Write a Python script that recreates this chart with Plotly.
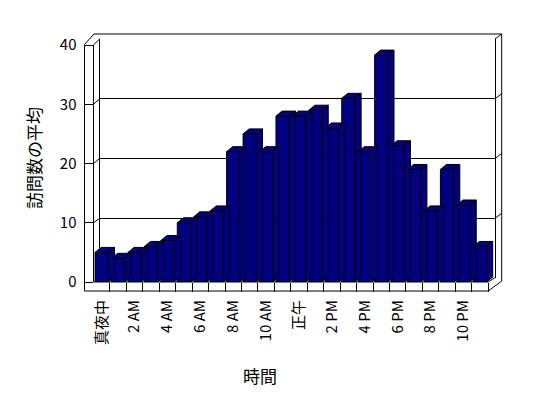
import plotly.graph_objects as go

# ---- data ----
hours = list(range(24))
tick_positions = [0, 2, 4, 6, 8, 10, 12, 14, 16, 18, 20, 22]
tick_labels = ["真夜中", "2 AM", "4 AM", "6 AM", "8 AM", "10 AM",
               "正午", "2 PM", "4 PM", "6 PM", "8 PM", "10 PM"]
visits = [5, 4, 5, 6, 7, 10, 11, 12, 22, 25, 22, 28,
          28, 29, 26, 31, 22, 38.3, 23, 19, 12, 19, 13, 6]
y_ticks = [0, 10, 20, 30, 40]

# ---- geometry / style ----
NAVY = "#000080"
FONT = "Noto Sans CJK JP"
L, R, T, B = 84, 502, 34, 292
W, H = R - L, B - T


def fx(p):
    return (p - L) / W


def fy(p):
    return (B - p) / H


BAR_W = 0.81
DX, DY = 0.37, 0.84  # depth of bars in axis units

fig = go.Figure()

# front faces
fig.add_trace(go.Bar(x=hours, y=visits, width=BAR_W, xaxis="x2", yaxis="y2",
                     marker=dict(color=NAVY, line=dict(color="black", width=1)),
                     hoverinfo="skip", showlegend=False))

# top and side faces built from the same values
top_x, top_y, side_x, side_y = [], [], [], []
for h, v in zip(hours, visits):
    x0, x1 = h - BAR_W / 2, h + BAR_W / 2
    top_x += [x0, x1, x1 + DX, x0 + DX, x0, None]
    top_y += [v, v, v + DY, v + DY, v, None]
    side_x += [x1, x1 + DX, x1 + DX, x1, x1, None]
    side_y += [0, DY, v + DY, v, 0, None]
for xs, ys in ((side_x, side_y), (top_x, top_y)):
    fig.add_trace(go.Scatter(x=xs, y=ys, xaxis="x2", yaxis="y2", mode="lines",
                             fill="toself", fillcolor=NAVY,
                             line=dict(color="black", width=1),
                             hoverinfo="skip", showlegend=False))

# invisible trace on back-wall subplot so that its axes render
fig.add_trace(go.Scatter(x=[0], y=[0], xaxis="x", yaxis="y", mode="markers",
                         marker=dict(opacity=0), hoverinfo="skip", showlegend=False))

line = dict(color="black", width=1)
shapes = []


def seg(x0, y0, x1, y1):
    shapes.append(dict(type="line", xref="paper", yref="paper",
                       x0=fx(x0), y0=fy(y0), x1=fx(x1), y1=fy(y1), line=line))


seg(94, 34, 501.7, 34)
seg(84.5, 44.5, 94, 34)
seg(93.5, 45, 99.7, 39)
seg(84.5, 44.5, 84.5, 291)
seg(84.5, 291, 488.3, 291)
seg(93.5, 282, 488.3, 282)
seg(501.7, 34, 501.7, 281)
seg(495, 39, 501.7, 34)
seg(501.7, 281, 488.3, 291)
seg(495, 277.5, 488.3, 282)
for v in (10, 20, 30):
    seg(93.5, 282 - 5.925 * v, 99.7, 278 - 5.975 * v)
    seg(495, 278 - 5.975 * v, 501.7, 273 - 5.975 * v)

fig.update_layout(
    width=548, height=398,
    margin=dict(l=L, r=548 - R, t=T, b=398 - B),
    paper_bgcolor="white", plot_bgcolor="rgba(0,0,0,0)",
    font=dict(family=FONT, size=15, color="black"),
    shapes=shapes,
    # back wall
    xaxis=dict(domain=[fx(99.7), fx(495)], range=[0, 1], showgrid=False,
               zeroline=False, showticklabels=False, ticks="", showline=False,
               anchor="y"),
    yaxis=dict(domain=[fy(278), fy(39)], range=[0, 40], tickvals=[10, 20, 30, 40],
               showgrid=True, gridcolor="black", gridwidth=1, zeroline=False,
               showticklabels=False, ticks="", showline=True, mirror=True,
               linecolor="black", linewidth=1, anchor="x"),
    # bar plane
    xaxis2=dict(domain=[fx(93.5), fx(93.5 + 24.5 * 16.445)], range=[-0.5, 24],
                tickmode="array", tickvals=tick_positions, ticktext=tick_labels,
                tickangle=-90, ticks="", showgrid=False, zeroline=False,
                showline=False, anchor="y2", ticklabelstandoff=14,
                tickfont=dict(family=FONT, size=15, color="black"),
                minor=dict(tickmode="array", tickvals=[h + 0.5 for h in hours],
                           ticks="outside", ticklen=9, tickwidth=1,
                           tickcolor="black", showgrid=False)),
    yaxis2=dict(domain=[fy(282), fy(45)], range=[0, 40], tickvals=y_ticks,
                showgrid=False, zeroline=False, ticks="outside", ticklen=9,
                tickcolor="black", tickwidth=1, showline=True, linecolor="black",
                linewidth=1, anchor="x2", ticklabelstandoff=4,
                tickfont=dict(family=FONT, size=15, color="black")),
    annotations=[
        dict(text="訪問数の平均", xref="paper", yref="paper", x=fx(33), y=fy(158),
             showarrow=False, textangle=-90, font=dict(family=FONT, size=17),
             xanchor="center", yanchor="middle"),
        dict(text="時間", xref="paper", yref="paper", x=fx(260), y=fy(375),
             showarrow=False, font=dict(family=FONT, size=17),
             xanchor="center", yanchor="middle"),
    ],
)

fig.write_html("out.html", config={"displayModeBar": False},
               post_script="document.body.style.margin='0';")
